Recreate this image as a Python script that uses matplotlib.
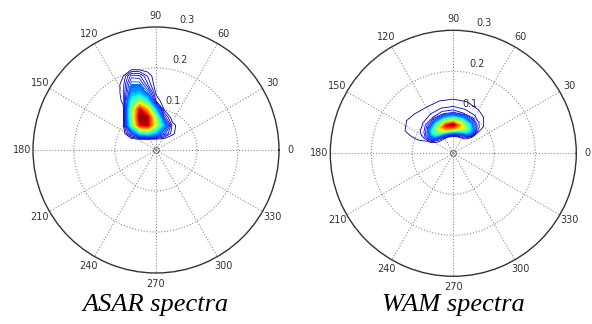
import numpy as np
import matplotlib
matplotlib.use("Agg")
import matplotlib.pyplot as plt

# Data
theta_ticks = [0, 30, 60, 90, 120, 150, 180, 210, 240, 270, 300, 330]
r_ticks = [0.1, 0.2, 0.3]
captions = ['ASAR spectra', 'WAM spectra']

# ASAR spectrum on a cartesian wavenumber grid (kx, ky), normalised energy
asar_kx = [-0.10, -0.08, -0.06, -0.04, -0.02, 0.00, 0.02, 0.04, 0.06]
asar_ky = [0.00, 0.025, 0.04, 0.06, 0.08, 0.10, 0.12, 0.14, 0.16, 0.18, 0.20, 0.22]
asar_E = [
    [0, 0, 0, 0, 0, 0, 0, 0, 0],
    [0, 0, 0, 0, 0, 0, 0, 0, 0],
    [0, 0, 0.15, 0.35, 0.40, 0.30, 0.15, 0.04, 0],
    [0, 0.02, 0.45, 0.90, 0.95, 0.60, 0.30, 0.05, 0],
    [0, 0.02, 0.50, 1.00, 0.95, 0.55, 0.12, 0, 0],
    [0, 0.02, 0.50, 0.92, 0.70, 0.30, 0.02, 0, 0],
    [0, 0.04, 0.40, 0.55, 0.38, 0.06, 0, 0, 0],
    [0, 0.05, 0.28, 0.30, 0.20, 0.02, 0, 0, 0],
    [0, 0.05, 0.22, 0.22, 0.10, 0, 0, 0, 0],
    [0, 0.03, 0.15, 0.14, 0.06, 0, 0, 0, 0],
    [0, 0, 0, 0, 0, 0, 0, 0, 0],
    [0, 0, 0, 0, 0, 0, 0, 0, 0],
]

# WAM spectrum on a direction / wavenumber grid
wam_dir = [30, 40, 50, 60, 75, 90, 105, 120, 135, 145, 155, 165]
wam_k = [0.04, 0.05, 0.06, 0.07, 0.08, 0.09, 0.10, 0.115, 0.13, 0.145, 0.16]
wam_E = [
    [0, 0, 0, 0, 0, 0, 0, 0, 0, 0, 0, 0],
    [0, 0, 0.05, 0.12, 0.20, 0.25, 0.25, 0.18, 0.10, 0.04, 0, 0],
    [0, 0.02, 0.25, 0.40, 0.60, 0.76, 0.74, 0.55, 0.35, 0.15, 0.02, 0],
    [0, 0.025, 0.30, 0.50, 0.72, 1.00, 0.92, 0.65, 0.42, 0.20, 0.03, 0],
    [0, 0.025, 0.20, 0.38, 0.55, 0.66, 0.62, 0.48, 0.30, 0.15, 0.04, 0],
    [0, 0.025, 0.10, 0.20, 0.28, 0.32, 0.30, 0.24, 0.15, 0.08, 0.05, 0],
    [0, 0.025, 0.05, 0.08, 0.10, 0.12, 0.12, 0.10, 0.07, 0.06, 0.05, 0],
    [0, 0.02, 0.03, 0.04, 0.05, 0.06, 0.06, 0.05, 0.05, 0.05, 0.04, 0],
    [0, 0, 0.01, 0.02, 0.03, 0.035, 0.035, 0.03, 0.04, 0.045, 0.03, 0],
    [0, 0, 0, 0, 0, 0, 0, 0, 0.01, 0.02, 0.01, 0],
    [0, 0, 0, 0, 0, 0, 0, 0, 0, 0, 0, 0],
]

W, H = 592, 324
R = 123
levels = np.linspace(0.03, 1.0, 30)
fill_levels = np.linspace(0.22, 1.01, 25)

fig = plt.figure(figsize=(W / 100, H / 100), dpi=100)


def make_panel(cx, cy, caption):
    rect = [(cx - R) / W, (H - cy - R) / H, 2 * R / W, 2 * R / H]
    axp = fig.add_axes(rect, projection='polar')
    axp.set_ylim(0, 0.3)
    axp.set_yticks(r_ticks[:-1])
    axp.set_yticklabels([])
    axp.set_thetagrids(theta_ticks, [str(t) for t in theta_ticks])
    axp.tick_params(axis='x', pad=-2.5, labelsize=7, labelcolor='#333333')
    axp.grid(True, linestyle=':', color='#8c8c8c', linewidth=0.8)
    axp.spines['polar'].set_color('#333333')
    axp.spines['polar'].set_linewidth(1.0)
    for r in r_ticks:
        axp.annotate(str(r), xy=(np.deg2rad(80), r), xytext=(7, 6.5),
                     textcoords='offset points', ha='center', va='center',
                     fontsize=7, color='#333333')
    # cartesian overlay for the spectra
    axc = fig.add_axes(rect)
    axc.set_xlim(-0.3, 0.3)
    axc.set_ylim(-0.3, 0.3)
    axc.set_facecolor('none')
    axc.axis('off')
    fig.text(cx / W, 1 - 305 / H, caption, family='Liberation Serif',
             style='italic', fontsize=19, ha='center', va='center')
    return axc


def draw_spectrum(ax, x, y, z):
    ax.contourf(x, y, z, levels=fill_levels, cmap='jet', vmin=0, vmax=1)
    ax.contour(x, y, z, levels=levels, cmap='jet', vmin=0, vmax=1,
               linewidths=0.6)
    ax.plot(0, 0, 'o', mfc='none', mec='#555555', ms=4, mew=0.6)


ax1 = make_panel(156, 150, captions[0])
KX, KY = np.meshgrid(asar_kx, asar_ky)
draw_spectrum(ax1, KX, KY, np.array(asar_E))

ax2 = make_panel(453.3, 153.3, captions[1])
TH, KK = np.meshgrid(np.deg2rad(wam_dir), wam_k)
draw_spectrum(ax2, KK * np.cos(TH), KK * np.sin(TH), np.array(wam_E))

fig.savefig('out.png', dpi=100)
